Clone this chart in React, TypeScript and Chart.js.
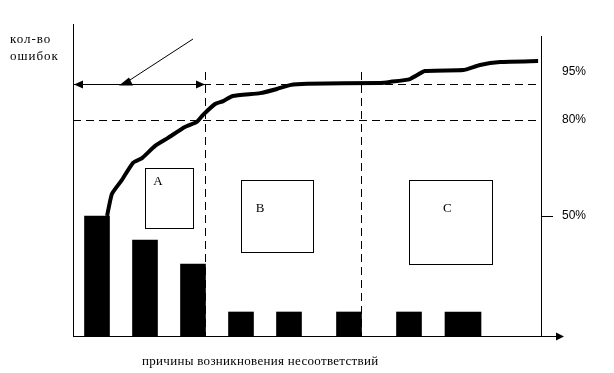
import React, { useEffect, useRef } from "react";
import { Chart, registerables } from "chart.js";

Chart.register(...registerables);

// Causes along the horizontal axis (position units), error counts per cause
const causePositions = [0.5, 1.5, 2.5, 3.5, 4.5, 5.75, 7, 8.125];
const errorCounts = [5, 4, 3, 1, 1, 1, 1, 1];

// Cumulative percentage curve
const cumulativeX = [
  0.71, 0.81, 1.02, 1.25, 1.44, 1.71, 1.98, 2.33, 2.58, 2.71, 2.96, 3.13, 3.33,
  3.9, 4.25, 4.52, 4.88, 6.4, 6.6, 7.02, 7.33, 8.13, 8.48, 8.9, 9.69,
];
const cumulativePct = [
  50, 56.9, 61.3, 66.6, 68.1, 71.9, 74.4, 77.8, 79.4, 81.6, 85, 85.9, 87.5,
  88.4, 89.7, 90.9, 91.3, 91.6, 91.9, 92.8, 95.3, 95.6, 97.2, 98.1, 98.4,
];

// Right axis tick labels (percent)
const pctTicks = [50, 80, 95];
// Horizontal dashed threshold lines (percent level where drawn)
const thresholdLevels = [80, 91.25];
// Vertical dashed group borders (cause axis)
const groupBorders = [2.75, 6];
// Group boxes: [x0, x1, yTop, yBottom] in cause / count units
const groupLabels = ["A", "B", "C"];
const groupBoxes = [
  [1.5, 2.5, 7, 4.5],
  [3.5, 5.0, 6.5, 3.5],
  [7.0, 8.73, 6.5, 3.0],
];
const groupLabelPos = [
  [1.77, 6.45],
  [3.9, 5.33],
  [7.8, 5.33],
];

const yTitle = ["кол-во", "ошибок"];
const xTitle = "причины возникновения несоответствий";

const SERIF = "'Liberation Serif', 'Times New Roman', serif";
const SANS = "'Liberation Sans', Arial, sans-serif";

const decor = {
  id: "decor",
  afterDatasetsDraw(chart: any) {
    const ctx: any = chart.ctx;
    const { left, right, top, bottom } = chart.chartArea;
    const xs = chart.scales.x;
    const ys = chart.scales.y;
    const yp = chart.scales.y2;
    const r = (v: number) => Math.round(v) + 0.5;
    const line = (x1: number, y1: number, x2: number, y2: number) => {
      ctx.beginPath();
      ctx.moveTo(x1, y1);
      ctx.lineTo(x2, y2);
      ctx.stroke();
    };
    const tri = (pts: number[][]) => {
      ctx.beginPath();
      ctx.moveTo(pts[0][0], pts[0][1]);
      ctx.lineTo(pts[1][0], pts[1][1]);
      ctx.lineTo(pts[2][0], pts[2][1]);
      ctx.closePath();
      ctx.fill();
    };
    ctx.save();
    ctx.strokeStyle = "#000";
    ctx.fillStyle = "#000";
    ctx.lineWidth = 1;

    // dashed lines
    ctx.setLineDash([8, 5]);
    thresholdLevels.forEach((v) => {
      const y = r(yp.getPixelForValue(v));
      line(left, y, right, y);
    });
    const vTop = yp.getPixelForValue(pctTicks[2]);
    groupBorders.forEach((v) => {
      const x = r(xs.getPixelForValue(v));
      line(x, vTop, x, bottom);
    });
    ctx.setLineDash([]);

    // group boxes
    groupBoxes.forEach((b, i) => {
      const x0 = r(xs.getPixelForValue(b[0]));
      const x1 = r(xs.getPixelForValue(b[1]));
      const y0 = r(ys.getPixelForValue(b[2]));
      const y1 = r(ys.getPixelForValue(b[3]));
      ctx.strokeRect(x0, y0, x1 - x0, y1 - y0);
      ctx.font = `13px ${SERIF}`;
      ctx.textAlign = "center";
      ctx.textBaseline = "middle";
      ctx.fillText(
        groupLabels[i],
        xs.getPixelForValue(groupLabelPos[i][0]),
        ys.getPixelForValue(groupLabelPos[i][1])
      );
    });

    // axes
    const lx = r(left);
    const rx = r(right);
    const by = r(bottom);
    line(lx, top, lx, bottom);
    line(rx, top + 12, rx, bottom);
    line(left, by, right + 17, by);
    tri([
      [right + 23, by],
      [right + 15, by - 4],
      [right + 15, by + 4],
    ]);

    // right tick mark at first pct tick
    const t50 = r(yp.getPixelForValue(pctTicks[0]));
    line(right, t50, right + 12, t50);

    // pct labels
    ctx.font = `12px ${SANS}`;
    ctx.textAlign = "left";
    ctx.textBaseline = "middle";
    pctTicks.forEach((v) => {
      ctx.fillText(v + "%", right + 21, yp.getPixelForValue(v));
    });

    // double arrow (group A span) at upper threshold level
    const ay = r(yp.getPixelForValue(thresholdLevels[1]));
    const ax2 = xs.getPixelForValue(groupBorders[0]);
    line(left, ay, ax2, ay);
    tri([
      [left + 1, ay],
      [left + 10, ay - 4],
      [left + 10, ay + 4],
    ]);
    tri([
      [ax2, ay],
      [ax2 - 9, ay - 4],
      [ax2 - 9, ay + 4],
    ]);

    // pointer line
    const px = left + 50;
    line(left + 120, top + 15, px, ay);
    tri([
      [px - 4, ay + 1],
      [px + 6, ay - 7],
      [px + 10, ay + 1],
    ]);

    // titles
    ctx.font = `13px ${SERIF}`;
    ctx.textAlign = "left";
    ctx.textBaseline = "middle";
    ctx.letterSpacing = "1px";
    ctx.fillText(yTitle[0], 10, 40);
    ctx.fillText(yTitle[1], 10, 57);
    ctx.letterSpacing = "0.3px";
    ctx.fillText(xTitle, 142, 362);
    ctx.letterSpacing = "0px";

    ctx.restore();
  },
};

export default function App() {
  const ref = useRef<HTMLCanvasElement>(null);
  useEffect(() => {
    if (!ref.current) return;
    const narrow = causePositions.slice(0, 7).map((x, i) => ({ x, y: errorCounts[i] }));
    const wide = causePositions.slice(7).map((x, i) => ({ x, y: errorCounts[7 + i] }));
    const curve = cumulativeX.map((x, i) => ({ x, y: cumulativePct[i] }));
    const chart = new Chart(ref.current, {
      type: "bar",
      data: {
        datasets: [
          {
            type: "line",
            data: curve,
            yAxisID: "y2",
            borderColor: "#000",
            borderWidth: 4,
            pointRadius: 0,
            tension: 0.15,
            fill: false,
            order: 0,
          } as any,
          {
            type: "bar",
            data: narrow,
            backgroundColor: "#000",
            barThickness: 25,
            grouped: false,
            yAxisID: "y",
            order: 1,
          },
          {
            type: "bar",
            data: wide,
            backgroundColor: "#000",
            barThickness: 36,
            grouped: false,
            yAxisID: "y",
            order: 1,
          },
        ],
      },
      options: {
        responsive: false,
        animation: false,
        layout: { padding: { left: 73, right: 73, top: 24, bottom: 37 } },
        plugins: { legend: { display: false }, tooltip: { enabled: false } },
        scales: {
          x: { type: "linear", min: 0, max: 9.75, display: false, offset: false },
          y: { type: "linear", min: 0, max: 13, display: false },
          y2: { type: "linear", min: 12.5, max: 110, display: false },
        },
      },
      plugins: [decor],
    });
    return () => chart.destroy();
  }, []);
  return (
    <div style={{ position: "fixed", left: 0, top: 0, width: 614, height: 373, background: "#fff" }}>
      <canvas ref={ref} width={614} height={373} style={{ width: 614, height: 373, display: "block" }} />
    </div>
  );
}
